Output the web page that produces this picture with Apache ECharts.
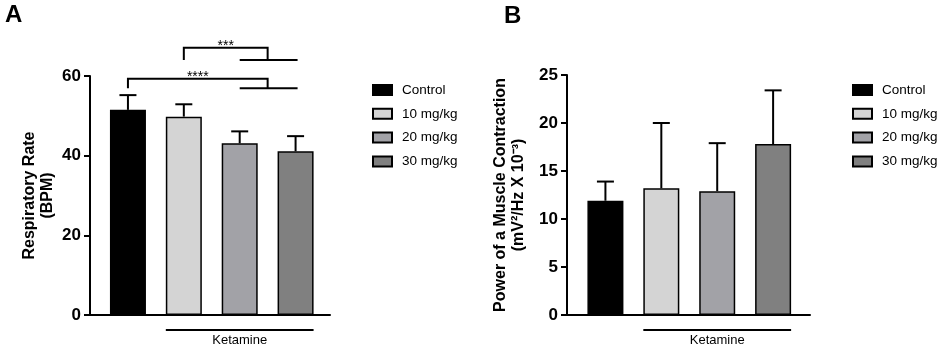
<!DOCTYPE html>
<html>
<head>
<meta charset="utf-8">
<script src="https://cdn.jsdelivr.net/npm/echarts@6/dist/echarts.min.js"></script>
<style>
  html, body { margin: 0; background: #fff; }
  #chart { width: 941px; height: 349px; }
</style>
</head>
<body>
<div id="chart"></div>
<script>
// groups shown in both panels
var groups = ['Control', '10 mg/kg', '20 mg/kg', '30 mg/kg'];
var groupColors = ['#000000', '#d4d4d4', '#a2a2a7', '#808080'];

// panel A - respiratory rate (mean and top of error bar)
var rateMean = [51.5, 49.8, 43.1, 41.1];
var rateUpper = [55.2, 52.9, 46.1, 44.9];
var rateTicks = [0, 20, 40, 60];

// panel B - power of a muscle contraction
var powerMean = [11.9, 13.2, 12.9, 17.8];
var powerUpper = [13.9, 20.0, 17.9, 23.4];
var powerTicks = [0, 5, 10, 15, 20, 25];

// significance brackets of panel A (top = level of bracket, drop = level of the sub bar)
var rateSig = [
  { label: '***', from: 1, to: [2, 3], top: 67.1, drop: 64.0 },
  { label: '****', from: 0, to: [2, 3], top: 59.3, drop: 56.9 }
];
var ketamineGroups = [1, 3];

var FONT = '"Liberation Sans", Arial, sans-serif';
var BAR_W = 36;

function barSeries(means, idx) {
  return means.map(function (m, i) {
    return {
      type: 'bar',
      name: groups[i],
      xAxisIndex: idx,
      yAxisIndex: idx,
      barWidth: BAR_W,
      barGap: '-100%',
      data: [[i, m]],
      itemStyle: { color: groupColors[i], borderColor: '#000', borderWidth: 1.5 },
      emphasis: { disabled: true },
      z: 2
    };
  });
}

function errorSeries(means, upper, idx) {
  return {
    type: 'custom',
    xAxisIndex: idx,
    yAxisIndex: idx,
    clip: false,
    z: 3,
    data: means.map(function (m, i) { return [i, m, upper[i]]; }),
    renderItem: function (params, api) {
      var x = api.value(0);
      var p0 = api.coord([x, api.value(1)]);
      var p1 = api.coord([x, api.value(2)]);
      return {
        type: 'group',
        children: [
          { type: 'line', shape: { x1: p0[0], y1: p0[1], x2: p1[0], y2: p1[1] }, style: { stroke: '#000', lineWidth: 2 } },
          { type: 'line', shape: { x1: p1[0] - 8.5, y1: p1[1], x2: p1[0] + 8.5, y2: p1[1] }, style: { stroke: '#000', lineWidth: 2 } }
        ]
      };
    }
  };
}

function annotationSeries(idx, sig) {
  return {
    type: 'custom',
    xAxisIndex: idx,
    yAxisIndex: idx,
    clip: false,
    silent: true,
    z: 4,
    data: [[0, 0]],
    renderItem: function (params, api) {
      var kids = [];
      var a = api.coord([ketamineGroups[0], 0]);
      var b = api.coord([ketamineGroups[1], 0]);
      var ly = a[1] + 15;
      kids.push({ type: 'line', shape: { x1: a[0] - BAR_W / 2, y1: ly, x2: b[0] + BAR_W / 2, y2: ly }, style: { stroke: '#000', lineWidth: 2 } });
      kids.push({ type: 'text', style: { text: 'Ketamine', x: (a[0] + b[0]) / 2, y: ly + 4, align: 'center', verticalAlign: 'top', font: '13px ' + FONT, fill: '#000' } });
      sig.forEach(function (s) {
        var left = api.coord([s.from, s.top]);
        var leftLow = api.coord([s.from, s.drop]);
        var mid = (s.to[0] + s.to[1]) / 2;
        var right = api.coord([mid, s.top]);
        var rightLow = api.coord([mid, s.drop]);
        var sub0 = api.coord([s.to[0], s.drop]);
        var sub1 = api.coord([s.to[1], s.drop]);
        kids.push({ type: 'polyline', shape: { points: [[left[0], leftLow[1]], left, right, rightLow] }, style: { stroke: '#000', lineWidth: 2, fill: null } });
        kids.push({ type: 'line', shape: { x1: sub0[0], y1: sub0[1], x2: sub1[0] + 2, y2: sub1[1] }, style: { stroke: '#000', lineWidth: 2 } });
        kids.push({ type: 'text', style: { text: s.label, x: (left[0] + right[0]) / 2, y: left[1] + 5, align: 'center', verticalAlign: 'bottom', font: '14px ' + FONT, fill: '#000' } });
      });
      return { type: 'group', children: kids };
    }
  };
}

function yAxisFor(idx, ticks, name, gap) {
  return {
    type: 'value',
    gridIndex: idx,
    min: ticks[0],
    max: ticks[ticks.length - 1],
    interval: ticks[1] - ticks[0],
    name: name,
    nameLocation: 'middle',
    nameRotate: 90,
    nameGap: gap,
    nameTextStyle: { fontFamily: FONT, fontWeight: 'bold', fontSize: 16, color: '#000', lineHeight: 18 },
    axisLine: { show: true, onZero: false, lineStyle: { color: '#000', width: 2 } },
    axisTick: { show: true, length: 6, lineStyle: { color: '#000', width: 2 } },
    axisLabel: { fontFamily: FONT, fontWeight: 'bold', fontSize: 17, color: '#000', margin: 9 },
    splitLine: { show: false }
  };
}

function xAxisFor(idx, min, max) {
  return {
    type: 'value',
    gridIndex: idx,
    min: min,
    max: max,
    axisLine: { show: true, onZero: false, lineStyle: { color: '#000', width: 2 } },
    axisTick: { show: false },
    axisLabel: { show: false },
    splitLine: { show: false }
  };
}

function legendAt(left) {
  return {
    orient: 'vertical',
    left: left,
    top: 78,
    data: groups,
    icon: 'rect',
    itemWidth: 19,
    itemHeight: 10,
    itemGap: 9.8,
    selectedMode: false,
    textStyle: { fontFamily: FONT, fontSize: 13.5, color: '#000', padding: [0, 0, 0, 5] }
  };
}

var chart = echarts.init(document.getElementById('chart'));
chart.setOption({
  animation: false,
  backgroundColor: '#fff',
  title: [
    { text: 'A', left: 0, top: -2, textStyle: { fontFamily: FONT, fontWeight: 'bold', fontSize: 24, color: '#000' } },
    { text: 'B', left: 499, top: -1, textStyle: { fontFamily: FONT, fontWeight: 'bold', fontSize: 24, color: '#000' } }
  ],
  legend: [legendAt(367), legendAt(847)],
  grid: [
    { left: 90, top: 76, width: 240, height: 239 },
    { left: 567, top: 75, width: 243, height: 240 }
  ],
  xAxis: [xAxisFor(0, -0.679, 3.616), xAxisFor(1, -0.6875, 3.66)],
  yAxis: [
    yAxisFor(0, rateTicks, 'Respiratory Rate\n(BPM)', 33),
    yAxisFor(1, powerTicks, 'Power of a Muscle Contraction\n(mV²/Hz X 10⁻³)', 39)
  ],
  series: [].concat(
    barSeries(rateMean, 0),
    barSeries(powerMean, 1),
    [errorSeries(rateMean, rateUpper, 0), errorSeries(powerMean, powerUpper, 1),
     annotationSeries(0, rateSig), annotationSeries(1, [])]
  )
});
</script>
</body>
</html>
